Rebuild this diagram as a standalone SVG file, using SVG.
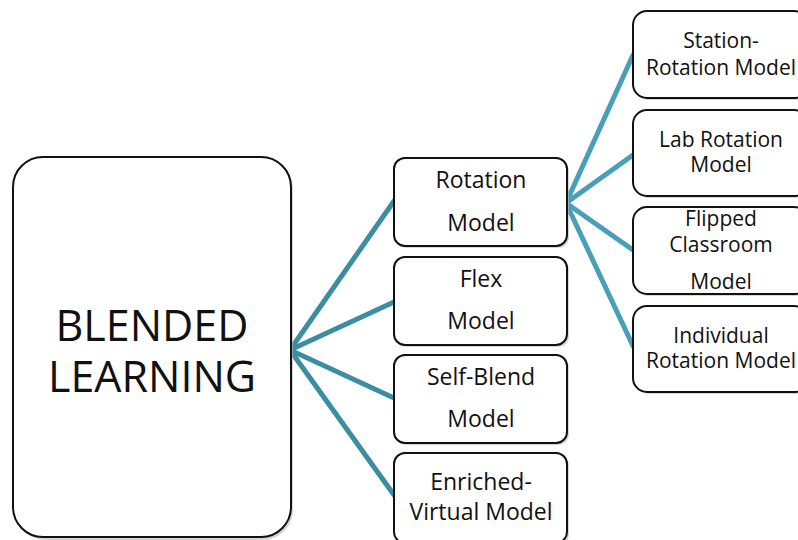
<svg xmlns="http://www.w3.org/2000/svg" width="798" height="540" viewBox="0 0 798 540">
<style>
.box{fill:#fff;stroke:#111;stroke-width:2}
.sh{fill:#bbb;opacity:0.6}
.t{font-family:"Open Sans","Noto Sans",sans-serif;fill:#111;text-anchor:middle}
.m{font-size:23px}
.r{font-size:21px}
.big{font-size:43px}
.c1{stroke:#3d8da2;stroke-width:5;fill:none;stroke-linecap:round}
.c2{stroke:#48a0b8;stroke-width:5;fill:none;stroke-linecap:round}
</style>
<rect width="798" height="540" fill="#fff"/>
<g id="connectors">
<line class="c1" x1="290" y1="350" x2="394" y2="201"/>
<line class="c1" x1="290" y1="350" x2="394" y2="302"/>
<line class="c1" x1="290" y1="350" x2="394" y2="398"/>
<line class="c1" x1="290" y1="350" x2="394" y2="495"/>
<line class="c2" x1="566" y1="203" x2="633" y2="55"/>
<line class="c2" x1="566" y1="203" x2="633" y2="155"/>
<line class="c2" x1="566" y1="203" x2="633" y2="250"/>
<line class="c2" x1="566" y1="203" x2="633" y2="346"/>
</g>
<g id="blended">
<rect class="sh" x="15" y="159" width="278" height="381" rx="30"/>
<rect class="box" x="13" y="157" width="278" height="380" rx="30"/>
<text class="t big" x="152" y="341">BLENDED</text>
<text class="t big" x="152" y="392">LEARNING</text>
</g>
<g id="rotation">
<rect class="sh" x="396" y="160" width="173" height="88" rx="11"/>
<rect class="box" x="394" y="158" width="173" height="88" rx="11"/>
<text class="t m" x="481" y="188">Rotation</text>
<text class="t m" x="481" y="231">Model</text>
</g>
<g id="flex">
<rect class="sh" x="396" y="259" width="173" height="88" rx="11"/>
<rect class="box" x="394" y="257" width="173" height="88" rx="11"/>
<text class="t m" x="481" y="287">Flex</text>
<text class="t m" x="481" y="329">Model</text>
</g>
<g id="selfblend">
<rect class="sh" x="396" y="357" width="173" height="88" rx="11"/>
<rect class="box" x="394" y="355" width="173" height="88" rx="11"/>
<text class="t m" x="481" y="385">Self-Blend</text>
<text class="t m" x="481" y="427">Model</text>
</g>
<g id="enriched">
<rect class="sh" x="396" y="455" width="173" height="90" rx="11"/>
<rect class="box" x="394" y="453" width="173" height="90" rx="11"/>
<text class="t m" x="481" y="490">Enriched-</text>
<text class="t m" x="481" y="520">Virtual Model</text>
</g>
<g id="station">
<rect class="sh" x="635" y="13" width="175" height="87" rx="14"/>
<rect class="box" x="633" y="11" width="175" height="87" rx="14"/>
<text class="t r" x="721" y="48">Station-</text>
<text class="t r" x="721" y="75">Rotation Model</text>
</g>
<g id="lab">
<rect class="sh" x="635" y="112" width="175" height="86" rx="14"/>
<rect class="box" x="633" y="110" width="175" height="86" rx="14"/>
<text class="t r" x="721" y="147">Lab Rotation</text>
<text class="t r" x="721" y="172">Model</text>
</g>
<g id="flipped">
<rect class="sh" x="635" y="209" width="175" height="87" rx="14"/>
<rect class="box" x="633" y="207" width="175" height="87" rx="14"/>
<text class="t r" x="721" y="226">Flipped</text>
<text class="t r" x="721" y="252">Classroom</text>
<text class="t r" x="721" y="289">Model</text>
</g>
<g id="individual">
<rect class="sh" x="635" y="308" width="175" height="86" rx="14"/>
<rect class="box" x="633" y="306" width="175" height="86" rx="14"/>
<text class="t r" x="721" y="343">Individual</text>
<text class="t r" x="721" y="368">Rotation Model</text>
</g>
</svg>
